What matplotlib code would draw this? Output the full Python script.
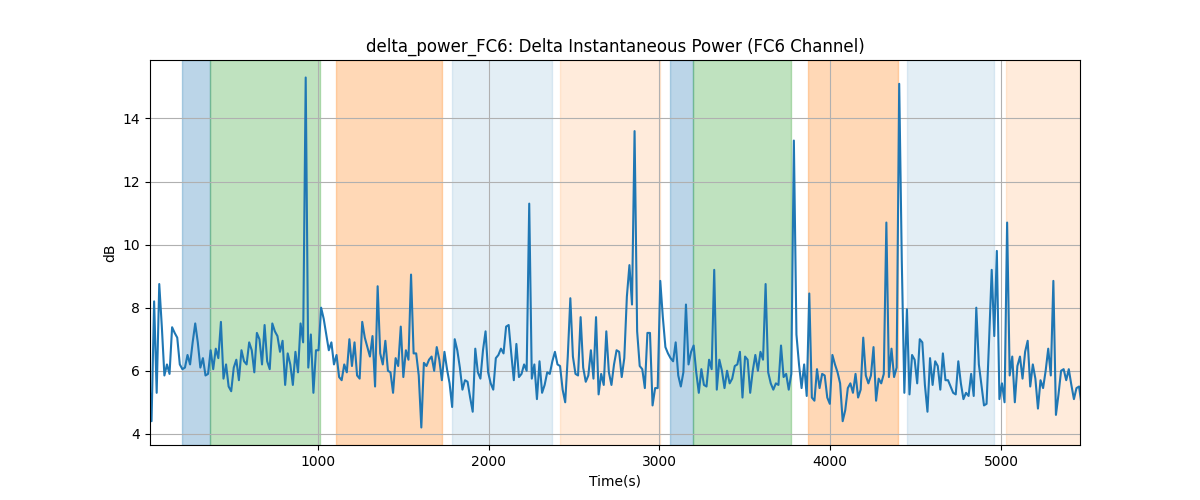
import matplotlib
matplotlib.use("Agg")
import matplotlib.pyplot as plt
import numpy as np

# sampling of the power series (seconds)
t_start = 12
t_step = 15.04
x_range = (18, 5462)

power_db = [
    5.9, 4.4, 8.2, 5.3, 8.75, 7.4, 5.85, 6.2, 5.9, 7.38, 7.2,
    7.05, 6.2, 6.05, 6.1, 6.5, 6.2, 6.9, 7.5, 6.9, 6.1,
    6.4, 5.85, 5.9, 6.65, 6.05, 6.7, 6.4, 7.55, 5.75, 6.2,
    5.5, 5.35, 6.1, 6.35, 5.7, 6.65, 6.3, 6.2, 6.9, 6.65,
    5.95, 7.2, 7.0, 6.2, 7.45, 6.3, 6.05, 7.5, 7.25, 7.1,
    6.6, 6.95, 5.55, 6.55, 6.2, 5.55, 6.6, 5.95, 7.5, 6.9,
    15.3, 6.1, 7.15, 5.3, 6.65, 6.65, 8.0, 7.65, 7.15, 6.65,
    6.9, 6.2, 6.5, 5.8, 5.7, 6.2, 5.95, 7.0, 6.15, 6.9,
    5.85, 5.75, 7.55, 7.05, 6.75, 6.45, 7.1, 5.5, 8.68, 6.55,
    6.2, 6.95, 6.0, 5.95, 5.3, 6.4, 6.15, 7.4, 5.8, 6.65,
    6.35, 9.05, 6.55, 6.55, 5.85, 4.2, 6.25, 6.15, 6.35, 6.45,
    6.0, 6.75, 6.35, 5.7, 6.6, 6.05, 5.6, 4.85, 7.0, 6.65,
    6.1, 5.4, 5.7, 5.65, 5.15, 4.7, 6.7, 5.95, 5.75, 6.65,
    7.25, 5.95, 5.6, 5.4, 6.4, 6.5, 6.7, 6.55, 7.4, 7.45,
    6.55, 5.7, 6.85, 5.8, 5.9, 6.2, 6.0, 11.3, 5.75, 6.2,
    5.1, 6.3, 5.3, 5.55, 5.95, 5.9, 6.3, 6.6, 6.2, 6.15,
    5.4, 5.0, 6.45, 8.3, 6.45, 5.9, 5.85, 7.7, 6.1, 5.65,
    5.85, 6.65, 5.75, 7.7, 5.25, 5.9, 5.55, 7.25, 5.95, 5.55,
    6.2, 6.65, 6.6, 5.8, 6.4, 8.35, 9.35, 8.1, 13.6, 7.25,
    6.15, 6.05, 5.45, 7.2, 7.2, 4.9, 5.45, 5.45, 8.85, 7.7,
    6.75, 6.55, 6.4, 6.3, 6.9, 5.85, 5.5, 5.95, 8.1, 6.2,
    6.6, 6.8, 5.95, 5.3, 6.05, 5.55, 5.5, 6.35, 6.05, 9.2,
    5.4, 6.35, 6.0, 5.45, 6.0, 5.6, 5.75, 6.15, 6.2, 6.6,
    5.15, 6.45, 6.35, 5.3, 6.0, 6.5, 6.0, 6.6, 6.35, 8.75,
    5.95, 5.6, 5.4, 5.6, 5.55, 6.8, 5.8, 5.9, 5.4, 5.9,
    13.3, 7.15, 6.2, 5.45, 6.2, 5.2, 8.45, 5.15, 5.05, 6.05,
    5.45, 5.9, 5.85, 5.15, 4.95, 6.5, 6.2, 5.95, 5.6, 4.4,
    4.75, 5.45, 5.6, 5.3, 5.9, 5.15, 5.4, 7.05, 5.85, 5.6,
    5.85, 6.75, 5.05, 5.75, 5.6, 5.9, 10.7, 5.8, 6.7, 5.8,
    6.1, 15.1, 9.5, 5.3, 7.95, 5.25, 6.5, 6.35, 5.6, 7.0,
    6.9, 5.55, 4.7, 6.4, 5.55, 6.3, 6.15, 5.4, 6.55, 5.7,
    5.7, 5.5, 5.3, 5.25, 6.3, 5.6, 5.1, 5.3, 5.2, 5.9,
    5.2, 8.0, 6.2, 5.55, 4.9, 4.95, 7.0, 9.2, 7.1, 9.8,
    5.1, 5.6, 5.0, 10.7, 5.85, 6.45, 5.0, 6.15, 6.45, 5.75,
    6.6, 6.95, 5.5, 6.2, 5.75, 4.8, 5.7, 5.45, 6.0, 6.7,
    5.85, 8.85, 4.6, 5.25, 6.0, 6.05, 5.7, 6.05, 5.55, 5.1,
    5.45, 5.5, 4.9,
]

# shaded task periods: (start, end, colour, alpha)
span_start = [207, 370, 1109, 1783, 2417, 3061, 3196, 3868, 4448, 5029]
span_end = [370, 1014, 1728, 2374, 3003, 3196, 3772, 4399, 4957, 5600]
span_color = ['tab:blue', 'tab:green', 'tab:orange', 'tab:blue', 'tab:orange',
              'tab:blue', 'tab:green', 'tab:orange', 'tab:blue', 'tab:orange']
span_alpha = [0.3, 0.3, 0.3, 0.12, 0.15, 0.3, 0.3, 0.3, 0.12, 0.15]

time_s = t_start + t_step * np.arange(len(power_db))

fig, ax = plt.subplots(figsize=(12, 5), dpi=100)

for s, e, c, a in zip(span_start, span_end, span_color, span_alpha):
    ax.axvspan(s, e, color=c, alpha=a)

ax.plot(time_s, power_db, color='tab:blue')
ax.set_xlim(*x_range)

ax.set_title('delta_power_FC6: Delta Instantaneous Power (FC6 Channel)')
ax.set_xlabel('Time(s)')
ax.set_ylabel('dB')
ax.grid(True)

fig.savefig('out.png')
